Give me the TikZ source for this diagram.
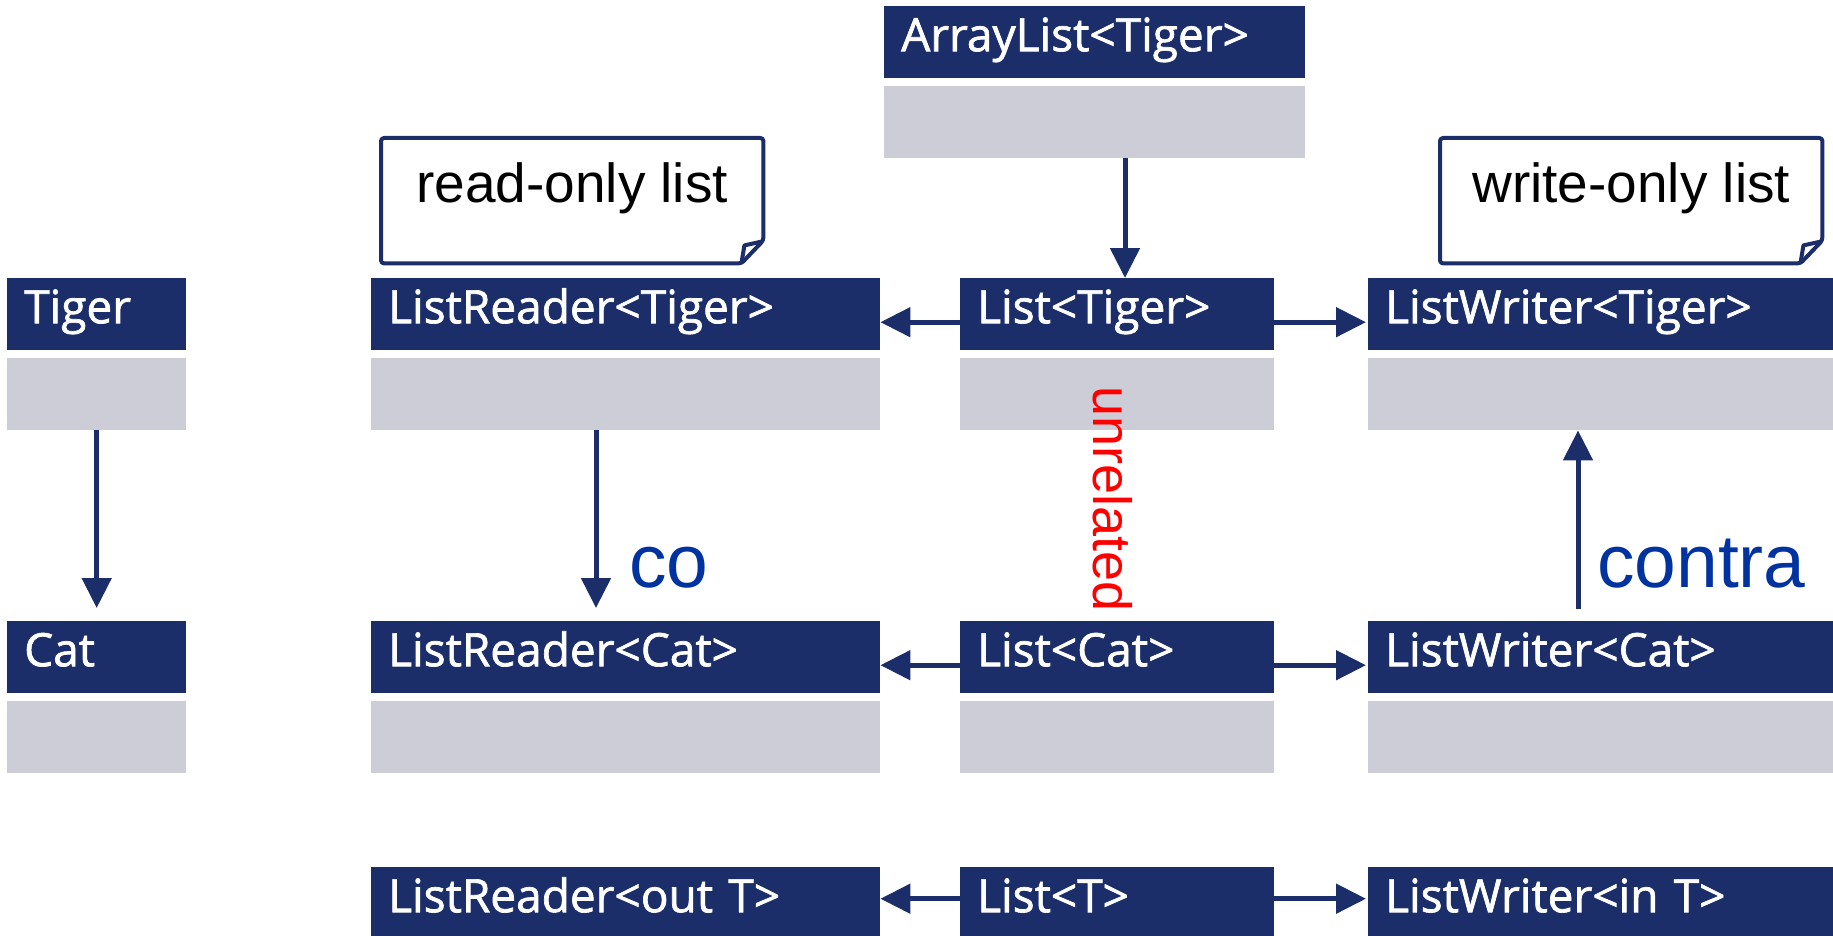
\documentclass[tikz,border=0pt]{standalone}
\usepackage{fontspec}
\setmainfont{Liberation Sans}
\newfontfamily\hdrfont[FakeBold=1.5]{Open Sans}
\usetikzlibrary{arrows.meta}
\definecolor{navy}{RGB}{27,46,106}
\definecolor{bodygray}{RGB}{204,205,214}
\definecolor{varblue}{RGB}{0,51,160}
\definecolor{alertred}{RGB}{255,0,0}
\begin{document}
\begin{tikzpicture}[x=1pt,y=-1pt,
  hdr/.style={fill=navy, text=white, font=\hdrfont\fontsize{46}{46}\selectfont,
    anchor=north west, inner xsep=17pt, inner ysep=0pt,
    text height=45pt, text depth=27pt, align=left},
  hdrlow/.style={hdr, text depth=24pt},
  body/.style={fill=bodygray, anchor=north west, minimum height=72pt, inner sep=0pt},
  arr/.style={draw=navy, line width=5pt, -{Triangle[width=29pt,length=30pt]}},
  notebox/.style={anchor=north west, minimum width=382pt, inner xsep=0pt, inner ysep=0pt,
    text height=64pt, text depth=61pt, font=\fontsize{55}{55}\selectfont},
  noteline/.style={draw=navy, line width=4pt, line join=round},
  varlabel/.style={text=varblue, font=\fontsize{75}{75}\selectfont, anchor=base west, inner sep=0pt}
]
\useasboundingbox (0,0) rectangle (1833,936);

% element types
\node[hdr, text width=145pt] (tigerH) at (7,278) {Tiger};
\node[body, minimum width=179pt] (tigerB) at (7,358) {};
\node[hdr, text width=145pt] (catH) at (7,621) {Cat};
\node[body, minimum width=179pt] (catB) at (7,701) {};

% concrete class
\node[hdr, text width=387pt] (arrH) at (884,6) {ArrayList<Tiger>};
\node[body, minimum width=421pt] (arrB) at (884,86) {};

% readers
\node[hdr, text width=475pt] (rtH) at (371,278) {ListReader<Tiger>};
\node[body, minimum width=509pt] (rtB) at (371,358) {};
\node[hdr, text width=475pt] (rcH) at (371,621) {ListReader<Cat>};
\node[body, minimum width=509pt] (rcB) at (371,701) {};
\node[hdrlow, text width=475pt] (roH) at (371,867) {ListReader<out T>};

% lists
\node[hdr, text width=280pt] (ltH) at (960,278) {List<Tiger>};
\node[body, minimum width=314pt] (ltB) at (960,358) {};
\node[hdr, text width=280pt] (lcH) at (960,621) {List<Cat>};
\node[body, minimum width=314pt] (lcB) at (960,701) {};
\node[hdrlow, text width=280pt] (lgH) at (960,867) {List<T>};

% writers
\node[hdr, text width=431pt] (wtH) at (1368,278) {ListWriter<Tiger>};
\node[body, minimum width=465pt] (wtB) at (1368,358) {};
\node[hdr, text width=431pt] (wcH) at (1368,621) {ListWriter<Cat>};
\node[body, minimum width=465pt] (wcB) at (1368,701) {};
\node[hdrlow, text width=431pt] (wiH) at (1368,867) {ListWriter<in T>};

% notes with folded corner
\node[notebox] (readnote) at (381,138) {read-only list};
\node[notebox] (writenote) at (1440,138) {write-only list};
\foreach \n in {readnote,writenote}{
  \draw[noteline, rounded corners=3pt] (\n.north west) -- (\n.north east)
    -- ([yshift=23pt]\n.south east) -- ([xshift=-22pt]\n.south east)
    -- (\n.south west) -- cycle;
  \draw[noteline] ([xshift=-22pt]\n.south east) -- ([xshift=-19pt,yshift=18pt]\n.south east)
    -- ([xshift=-1pt,yshift=22pt]\n.south east);
}

% inheritance and variance arrows
\draw[arr, shorten >=13pt] (tigerB.south) -- (catH.north);
\draw[arr] ([xshift=241pt]arrB.south west) -- ([xshift=241pt]arrB.south west |- ltH.north);
\draw[arr, shorten >=13pt] ([xshift=225pt]rtB.south west) -- ([xshift=225pt]rtB.south west |- rcH.north);
\draw[arr, shorten <=12pt] ([xshift=210pt]wcH.north west) -- ([xshift=210pt]wcH.north west |- wtB.south);

\draw[arr] ([yshift=-8pt]ltH.west) -- ([yshift=-8pt]rtH.east);
\draw[arr, shorten >=2pt] ([yshift=-8pt]ltH.east) -- ([yshift=-8pt]wtH.west);
\draw[arr] ([yshift=-8pt]lcH.west) -- ([yshift=-8pt]rcH.east);
\draw[arr, shorten >=2pt] ([yshift=-8pt]lcH.east) -- ([yshift=-8pt]wcH.west);
\draw[arr] ([yshift=3pt]lgH.west) -- ([yshift=3pt]roH.east);
\draw[arr, shorten >=2pt] ([yshift=3pt]lgH.east) -- ([yshift=3pt]wiH.west);

% labels
\node[varlabel] (colabel) at (629,587) {co};
\node[varlabel] (contralabel) at (1597,587) {contra};
\node[text=alertred, font=\fontsize{54}{54}\selectfont, rotate=-90, anchor=base west, inner sep=0pt]
  (unrel) at (1093,386) {unrelated};
\end{tikzpicture}
\end{document}
